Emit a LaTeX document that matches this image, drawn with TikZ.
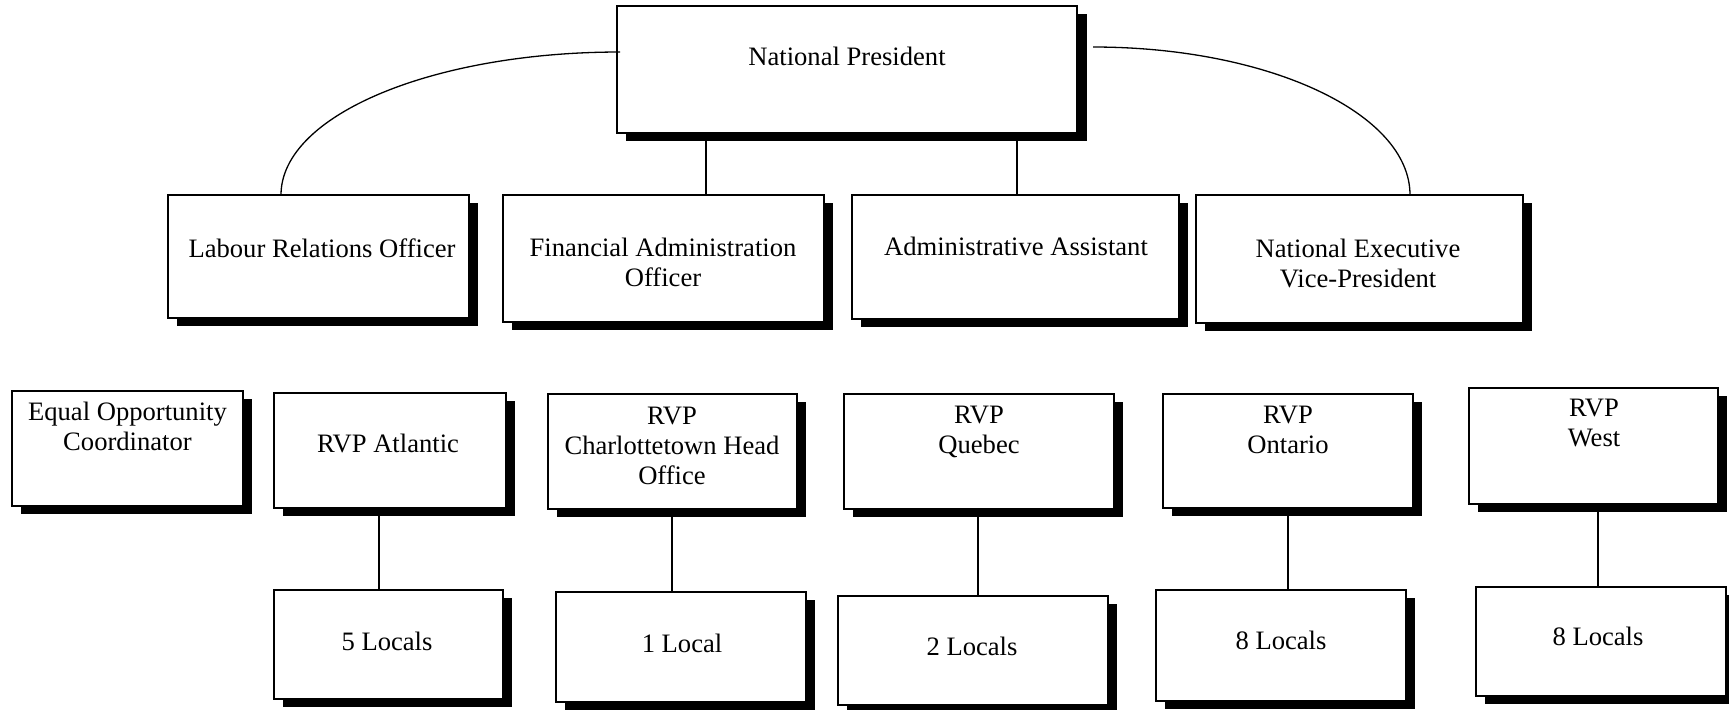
\documentclass[tikz,border=0pt]{standalone}
\usepackage{fontspec}
\setmainfont{Liberation Serif}
\usetikzlibrary{shadows,calc}
\tikzset{
  orgbox/.style={draw=black, fill=white, line width=1pt, inner sep=0pt, outer sep=0pt,
    anchor=north west,
    general shadow={fill=black, draw=none, shadow xshift=4.5pt, shadow yshift=-4pt}},
  lbl/.style={anchor=base, align=center, inner sep=0pt, font=\fontsize{13.3}{15}\selectfont},
  link/.style={line width=1pt},
  arcline/.style={line width=0.65pt},
}
\newcommand\obox[6][]{%
  \node[orgbox,#1,minimum width={(#5-#3)*0.5pt},minimum height={(#6-#4)*0.5pt}] (#2) at (#3,#4) {};}
\begin{document}
\begin{tikzpicture}[x=0.5pt,y=-0.5pt]
\useasboundingbox (0,0) rectangle (1729,709);
% top
\obox[line width=0.6pt, general shadow={fill=black, draw=none, shadow xshift=5pt, shadow yshift=-4pt}]{np}{617}{6}{1077}{133}
\node[lbl] (t-np) at (847,65) {National President};
% second row (anchor = baseline of last line)
\obox{lro}{168}{195}{469}{318}
\node[lbl] (t-lro) at (322,257) {Labour Relations Officer};
\obox{fao}{503}{195}{824}{322}
\node[lbl] (t-fao) at (663,286) {Financial Administration\\Officer};
\obox{aa}{852}{195}{1179}{319}
\node[lbl] (t-aa) at (1016,255) {Administrative Assistant};
\obox{nevp}{1196}{195}{1523}{323}
\node[lbl] (t-nevp) at (1358,287) {National Executive\\Vice-President};
% third row
\obox{eoc}{12}{391}{243}{506}
\node[lbl] (t-eoc) at (127.5,450) {Equal Opportunity\\Coordinator};
\obox{rvpa}{274}{393}{506}{508}
\node[lbl] (t-rvpa) at (388,452) {RVP Atlantic};
\obox{cho}{548}{394}{797}{509}
\node[lbl] (t-cho) at (672,484) {RVP\\Charlottetown Head\\Office};
\obox{rq}{844}{394}{1114}{509}
\node[lbl] (t-rq) at (979,453) {RVP\\Quebec};
\obox{ro}{1163}{394}{1413}{508}
\node[lbl] (t-ro) at (1288,453) {RVP\\Ontario};
\obox{rw}{1469}{388}{1718}{504}
\node[lbl] (t-rw) at (1594,446) {RVP\\West};
% locals
\obox{l5}{274}{590}{503}{699}
\node[lbl] (t-l5) at (387,650) {5 Locals};
\obox{l1}{556}{592}{806}{702}
\node[lbl] (t-l1) at (682,652) {1 Local};
\obox{l2}{838}{596}{1108}{705}
\node[lbl] (t-l2) at (972,655) {2 Locals};
\obox{l8o}{1156}{590}{1406}{701}
\node[lbl] (t-l8o) at (1281,649) {8 Locals};
\obox{l8w}{1476}{587}{1726}{696}
\node[lbl] (t-l8w) at (1598,645) {8 Locals};
% connectors
\draw[arcline] ($(np.north west)+(3,46)$) .. controls (433,52) and (281,115) .. (281,0 |- lro.north);
\draw[arcline] ($(np.north east)+(16,41)$) .. controls (1268,47) and (1410,113) .. (1410,0 |- nevp.north);
\draw[link] (706,0 |- np.south) -- (706,0 |- fao.north);
\draw[link] (1017,0 |- np.south) -- (1017,0 |- aa.north);
\draw[link] (379,0 |- rvpa.south) -- (379,0 |- l5.north);
\draw[link] (672,0 |- cho.south) -- (672,0 |- l1.north);
\draw[link] (978,0 |- rq.south) -- (978,0 |- l2.north);
\draw[link] (1288,0 |- ro.south) -- (1288,0 |- l8o.north);
\draw[link] (1598,0 |- rw.south) -- (1598,0 |- l8w.north);
\end{tikzpicture}
\end{document}
